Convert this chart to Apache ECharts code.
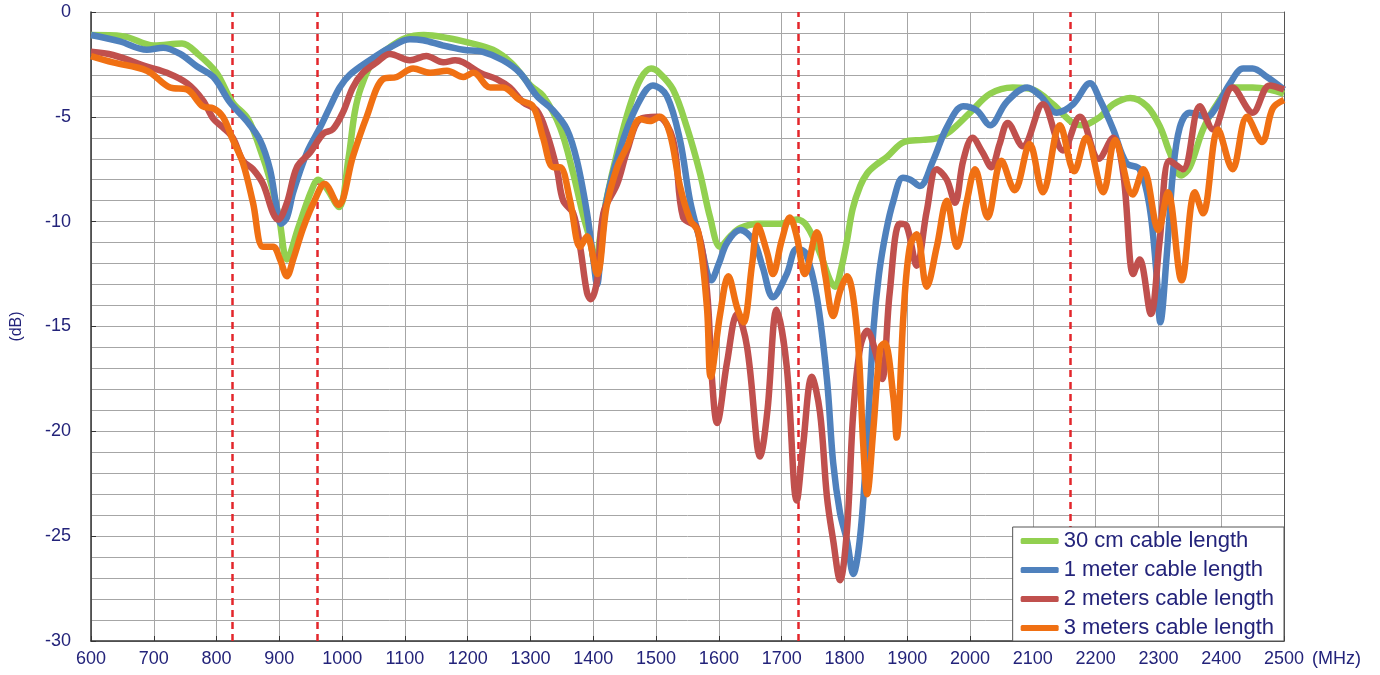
<!DOCTYPE html>
<html>
<head>
<meta charset="utf-8">
<script src="https://cdn.jsdelivr.net/npm/echarts@6/dist/echarts.min.js"></script>
<style>
html,body{margin:0;padding:0;background:#fff;}
#chart{width:1380px;height:675px;}
</style>
</head>
<body>
<div id="chart"></div>
<script>
// ---- data (frequency MHz, level dB) ----
const seriesNames = ['30 cm cable length', '1 meter cable length', '2 meters cable length', '3 meters cable length'];
const seriesColors = ['#92d050', '#4f81bd', '#c0504d', '#f07013'];
const markerFreqs = [825, 960, 1726, 2160];

const green30cm = [[600,-1.1],[650,-1.15],[700,-1.6],[745,-1.5],[770,-2.0],[800,-2.9],[825,-4.3],[850,-5.1],[870,-6.6],[885,-8.0],[900,-9.9],[912,-11.8],[930,-10.3],[950,-8.6],[962,-8.0],[975,-8.4],[995,-9.3],[1010,-7.0],[1020,-4.8],[1030,-3.6],[1050,-2.3],[1075,-1.7],[1100,-1.25],[1130,-1.1],[1170,-1.25],[1200,-1.45],[1240,-1.8],[1270,-2.45],[1300,-3.5],[1320,-4.0],[1347,-5.5],[1368,-7.7],[1383,-9.6],[1395,-10.9],[1403,-12.0],[1412,-10.5],[1422,-8.8],[1438,-6.7],[1458,-4.5],[1475,-3.2],[1492,-2.7],[1505,-2.9],[1527,-3.7],[1549,-5.5],[1570,-7.7],[1586,-9.8],[1602,-11.2],[1618,-10.7],[1634,-10.3],[1665,-10.1],[1697,-10.1],[1724,-9.9],[1740,-10.2],[1761,-11.5],[1777,-12.8],[1785,-13.1],[1795,-12.2],[1804,-10.9],[1813,-9.4],[1825,-8.3],[1836,-7.7],[1850,-7.3],[1868,-6.9],[1895,-6.2],[1925,-6.1],[1950,-6.0],[1968,-5.7],[2000,-4.8],[2032,-3.9],[2068,-3.6],[2100,-3.7],[2132,-4.4],[2164,-5.3],[2180,-5.4],[2207,-5.0],[2228,-4.4],[2255,-4.1],[2282,-4.5],[2303,-5.5],[2318,-6.7],[2336,-7.8],[2350,-7.4],[2371,-5.6],[2393,-4.4],[2418,-3.6],[2450,-3.6],[2477,-3.7],[2500,-3.9]];

const blue1m = [[600,-1.1],[646,-1.4],[689,-1.8],[715,-1.7],[742,-2.0],[769,-2.6],[795,-3.1],[821,-4.3],[848,-5.2],[869,-6.1],[885,-7.5],[895,-9.2],[903,-10.1],[912,-9.8],[922,-8.6],[944,-6.7],[965,-5.5],[981,-4.5],[996,-3.6],[1012,-3.0],[1044,-2.3],[1076,-1.7],[1108,-1.3],[1129,-1.35],[1161,-1.6],[1193,-1.8],[1224,-1.9],[1256,-2.3],[1283,-2.9],[1310,-4.0],[1336,-4.7],[1358,-5.6],[1374,-7.1],[1390,-9.6],[1400,-11.8],[1406,-13.0],[1412,-11.5],[1421,-9.0],[1442,-6.6],[1469,-4.5],[1495,-3.5],[1517,-4.0],[1538,-6.1],[1554,-9.0],[1570,-10.9],[1588,-12.8],[1600,-12.0],[1613,-11.0],[1634,-10.4],[1655,-10.9],[1670,-12.2],[1686,-13.6],[1708,-12.5],[1724,-11.3],[1738,-11.5],[1756,-13.6],[1772,-17.5],[1782,-21.5],[1793,-23.9],[1804,-25.2],[1814,-26.8],[1825,-25.0],[1836,-20.5],[1846,-15.2],[1855,-12.5],[1866,-10.5],[1878,-9.0],[1893,-7.9],[1905,-8.0],[1920,-8.3],[1941,-7.1],[1963,-5.5],[1989,-4.5],[2011,-4.7],[2032,-5.4],[2058,-4.3],[2091,-3.6],[2112,-4.0],[2138,-4.8],[2164,-4.4],[2191,-3.4],[2207,-4.2],[2228,-5.6],[2249,-7.2],[2270,-7.5],[2286,-9.3],[2297,-12.5],[2303,-14.8],[2313,-11.7],[2323,-7.7],[2334,-5.5],[2350,-4.8],[2377,-5.0],[2393,-4.5],[2414,-3.4],[2435,-2.7],[2450,-2.7],[2473,-3.1],[2500,-3.7]];

const red2m = [[600,-1.9],[635,-2.05],[689,-2.6],[721,-2.9],[753,-3.4],[778,-4.2],[795,-5.1],[810,-5.5],[826,-6.0],[842,-7.1],[858,-7.5],[874,-8.2],[890,-9.6],[898,-9.9],[912,-9.1],[928,-7.4],[949,-6.7],[970,-5.8],[985,-5.6],[1001,-4.8],[1017,-3.6],[1033,-2.9],[1055,-2.4],[1076,-2.0],[1108,-2.3],[1134,-2.1],[1161,-2.4],[1180,-2.3],[1193,-2.4],[1220,-2.9],[1246,-3.2],[1267,-3.6],[1288,-4.3],[1310,-4.7],[1326,-5.8],[1342,-7.5],[1352,-9.0],[1368,-9.6],[1379,-11.2],[1390,-13.4],[1396,-13.7],[1406,-12.8],[1416,-9.6],[1438,-8.2],[1454,-6.6],[1475,-5.1],[1502,-5.0],[1527,-6.1],[1543,-9.8],[1565,-10.3],[1581,-13.3],[1589,-17.5],[1597,-19.6],[1613,-16.7],[1629,-14.4],[1645,-16.0],[1661,-20.7],[1665,-21.2],[1677,-19.1],[1692,-14.2],[1708,-16.9],[1724,-23.3],[1734,-20.7],[1748,-17.4],[1761,-19.1],[1772,-23.1],[1782,-25.2],[1793,-27.1],[1804,-24.7],[1814,-19.1],[1825,-16.0],[1836,-15.2],[1852,-16.5],[1860,-17.5],[1872,-13.4],[1888,-10.1],[1899,-10.2],[1915,-12.1],[1931,-9.5],[1947,-7.5],[1963,-8.0],[1976,-9.1],[1989,-7.1],[2004,-6.0],[2020,-6.7],[2034,-7.4],[2047,-6.3],[2060,-5.3],[2084,-6.4],[2116,-4.4],[2148,-6.6],[2175,-5.0],[2205,-7.0],[2228,-6.0],[2244,-7.7],[2260,-12.5],[2270,-11.8],[2288,-14.4],[2302,-10.9],[2318,-7.1],[2339,-7.5],[2366,-4.5],[2387,-5.6],[2418,-3.6],[2450,-4.8],[2477,-3.5],[2500,-3.7]];

const orange3m = [[600,-2.1],[635,-2.4],[689,-2.8],[726,-3.6],[753,-3.7],[778,-4.5],[795,-4.6],[810,-5.0],[826,-6.1],[842,-7.2],[858,-9.1],[874,-11.2],[890,-11.2],[901,-11.8],[912,-12.6],[922,-11.8],[938,-10.3],[956,-9.0],[972,-8.2],[994,-9.2],[1017,-6.9],[1039,-5.0],[1065,-3.2],[1087,-3.1],[1113,-2.7],[1140,-2.9],[1167,-2.8],[1193,-3.1],[1209,-2.9],[1236,-3.6],[1256,-3.6],[1283,-4.2],[1304,-4.5],[1320,-6.0],[1336,-7.4],[1347,-7.4],[1363,-9.0],[1379,-11.2],[1390,-10.7],[1406,-12.5],[1421,-9.3],[1438,-7.4],[1454,-6.4],[1475,-5.1],[1490,-5.2],[1506,-5.0],[1522,-5.8],[1538,-8.3],[1554,-9.9],[1567,-10.5],[1581,-14.1],[1587,-17.4],[1602,-14.4],[1615,-12.6],[1629,-14.1],[1639,-14.8],[1653,-12.0],[1662,-10.2],[1677,-11.5],[1686,-12.5],[1700,-10.9],[1713,-9.8],[1724,-10.7],[1737,-12.5],[1756,-10.5],[1769,-12.5],[1782,-14.5],[1793,-13.3],[1804,-12.6],[1820,-15.2],[1830,-20.7],[1836,-23.0],[1846,-19.9],[1857,-16.0],[1864,-15.8],[1878,-18.4],[1883,-20.3],[1894,-14.4],[1904,-11.2],[1915,-10.6],[1931,-13.1],[1947,-11.2],[1963,-9.0],[1979,-11.2],[1995,-9.0],[2008,-7.5],[2028,-9.8],[2050,-7.1],[2071,-8.5],[2095,-6.3],[2116,-8.6],[2143,-5.4],[2166,-7.6],[2185,-6.0],[2212,-8.6],[2231,-6.1],[2259,-8.7],[2276,-7.5],[2300,-10.4],[2315,-8.6],[2337,-12.8],[2358,-8.6],[2371,-9.6],[2395,-5.6],[2418,-7.5],[2441,-5.0],[2465,-6.2],[2482,-4.6],[2500,-4.2]];

const seriesData = [green30cm, blue1m, red2m, orange3m];

// ---- chart ----
const textColor = '#23237a';
const font = 'Liberation Sans, Arial, sans-serif';
const chart = echarts.init(document.getElementById('chart'), null, {renderer: 'canvas'});

const series = [{
  name: 'markers',
  type: 'line',
  data: [],
  z: 1,
  silent: true,
  markLine: {
    silent: true,
    z: 1,
    symbol: ['none', 'none'],
    label: {show: false},
    lineStyle: {color: '#e3262b', width: 2.5, type: [7, 5]},
    data: markerFreqs.map(f => ({xAxis: f}))
  }
}];
seriesNames.forEach((n, i) => {
  series.push({
    name: n,
    type: 'line',
    data: seriesData[i],
    smooth: 0.35,
    showSymbol: false,
    z: 2 + i,
    lineStyle: {color: seriesColors[i], width: 6.5},
    itemStyle: {color: seriesColors[i]}
  });
});

chart.setOption({
  animation: false,
  backgroundColor: '#fff',
  grid: {left: 91, right: 96, top: 12, bottom: 34},
  legend: {
    data: seriesNames,
    orient: 'vertical',
    right: 96,
    bottom: 34,
    z: 100,
    zlevel: 1,
    backgroundColor: '#fff',
    borderColor: '#555',
    borderWidth: 1,
    padding: [3, 10, 2, 8],
    itemWidth: 38,
    itemHeight: 6,
    itemGap: 7,
    icon: 'roundRect',
    textStyle: {color: textColor, fontSize: 22, fontFamily: font, lineHeight: 22}
  },
  xAxis: {
    type: 'value',
    min: 600,
    max: 2500,
    interval: 100,
    name: '(MHz)',
    nameLocation: 'end',
    nameGap: 28,
    nameTextStyle: {color: textColor, fontSize: 18, fontFamily: font, verticalAlign: 'top', padding: [9, 0, 0, 0]},
    axisLine: {show: true, lineStyle: {color: '#333', width: 1.5}, onZero: false},
    axisTick: {show: true, inside: true, length: 5, lineStyle: {color: '#333'}},
    axisLabel: {color: textColor, fontSize: 18, fontFamily: font, margin: 9, formatter: v => String(v)},
    splitLine: {show: true, lineStyle: {color: '#a6a6a6', width: 1}}
  },
  yAxis: [{
    type: 'value',
    min: -30,
    max: 0,
    interval: 5,
    name: '(dB)',
    nameLocation: 'middle',
    nameRotate: 90,
    nameGap: 66,
    nameTextStyle: {color: textColor, fontSize: 16, fontFamily: font},
    axisLine: {show: true, lineStyle: {color: '#333', width: 1.5}},
    axisTick: {show: true, inside: true, length: 5, lineStyle: {color: '#333'}},
    axisLabel: {color: textColor, fontSize: 18, fontFamily: font, margin: 20, formatter: v => String(v)},
    splitLine: {show: true, lineStyle: {color: '#a6a6a6', width: 1}},
    minorTick: {show: false, splitNumber: 5},
    minorSplitLine: {show: true, lineStyle: {color: '#a6a6a6', width: 1}}
  }, {
    type: 'value',
    position: 'right',
    min: -30,
    max: 0,
    interval: 5,
    axisLine: {show: true, lineStyle: {color: '#555', width: 1}},
    axisTick: {show: false},
    axisLabel: {show: false},
    splitLine: {show: false}
  }],
  series: series
});
</script>
</body>
</html>
